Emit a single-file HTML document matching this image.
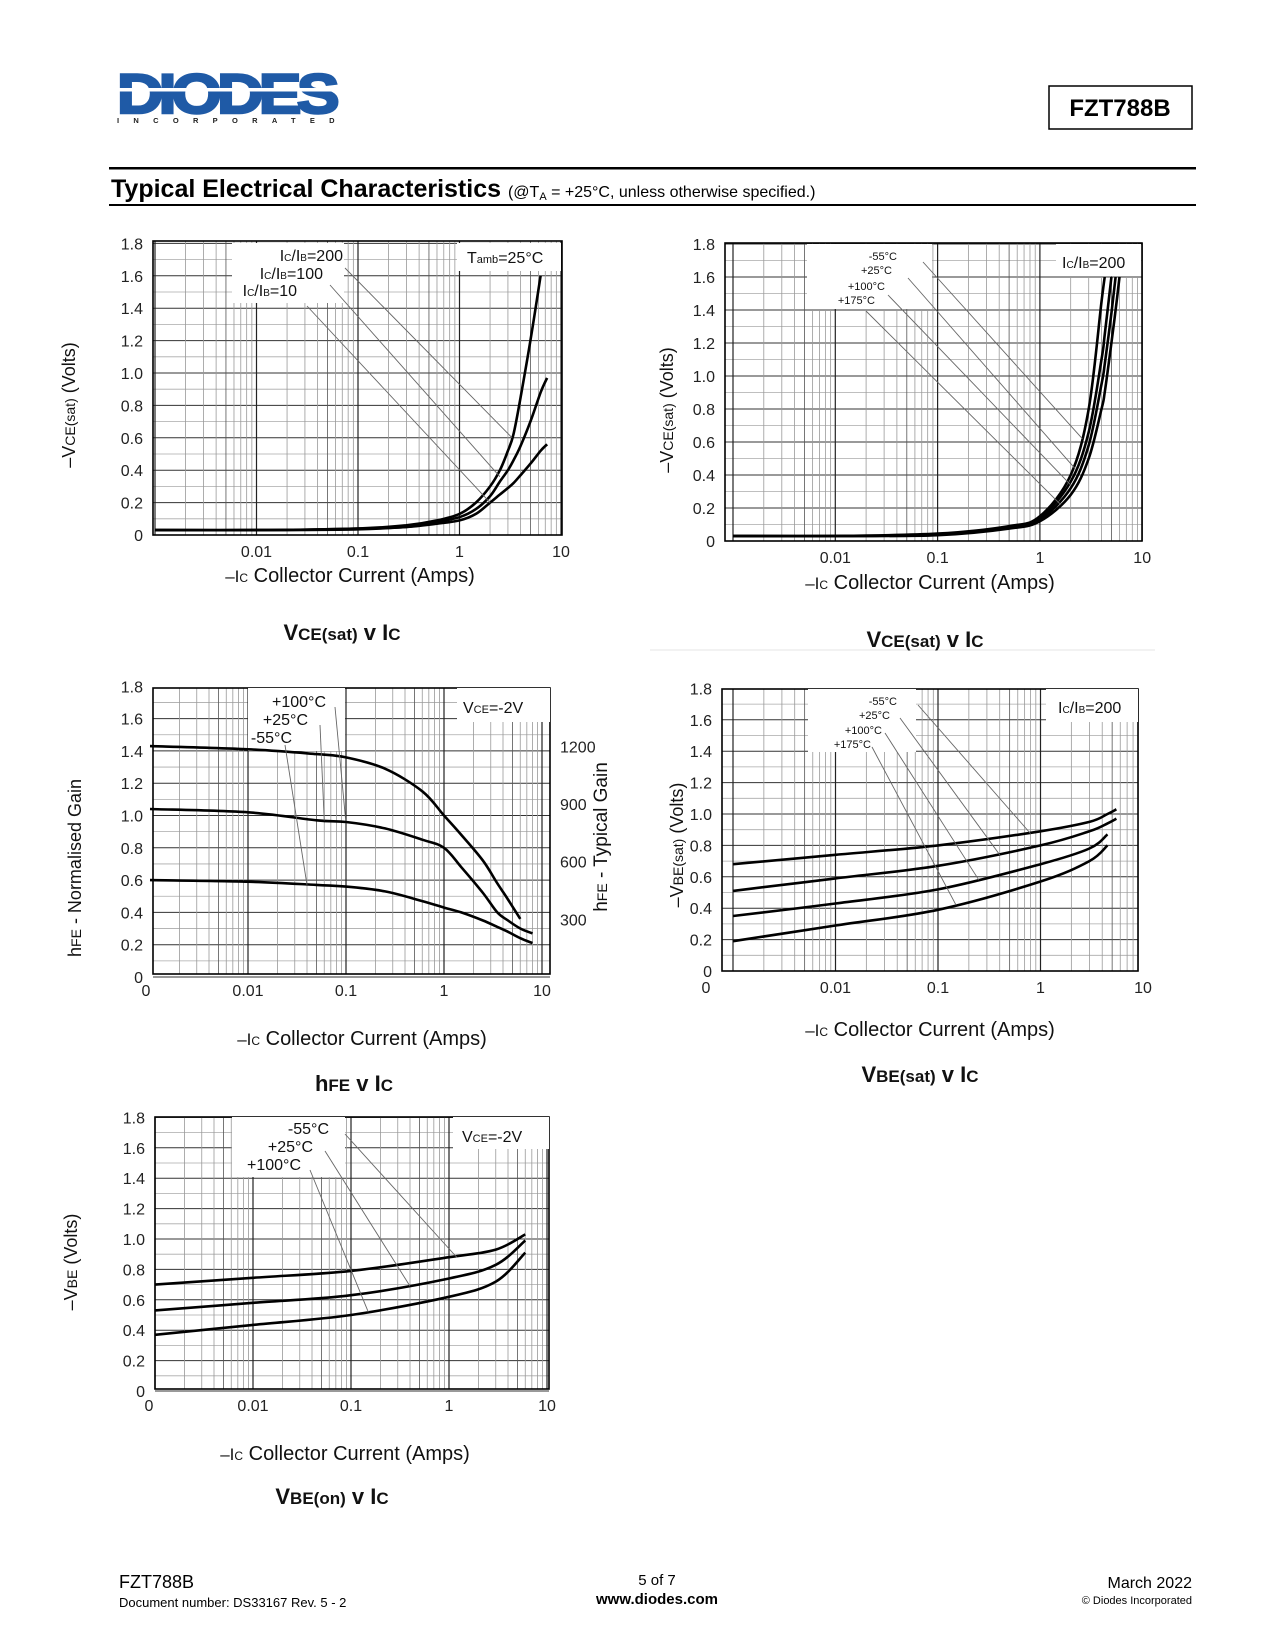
<!DOCTYPE html>
<html><head><meta charset="utf-8"><style>
html,body{margin:0;padding:0;background:#fff}
svg{display:block;font-family:"Liberation Sans",Arial,sans-serif}
</style></head><body>
<svg id="pg" width="1275" height="1650" viewBox="0 0 1275 1650" xmlns="http://www.w3.org/2000/svg">
<g>
<text x="117" y="113" font-size="56" font-weight="bold" fill="#1f5aa6" stroke="#1f5aa6" stroke-width="2.5" letter-spacing="-4" font-family="Liberation Sans, sans-serif" textLength="218" lengthAdjust="spacingAndGlyphs">DIODES</text>
<rect x="117" y="88" width="222" height="3.5" fill="#fff"/>
<text x="117" y="123" font-size="7.5" font-weight="bold" fill="#222" letter-spacing="14.3">INCORPORATED</text>
</g>
<rect x="1049" y="86" width="143" height="43" fill="#fff" stroke="#000" stroke-width="1.5"/>
<text x="1120" y="116" font-size="24" font-weight="bold" text-anchor="middle">FZT788B</text>
<rect x="109" y="167" width="1087" height="2.5" fill="#000"/>
<text x="111" y="197" font-size="25" font-weight="bold">Typical Electrical Characteristics <tspan font-size="16" font-weight="normal">(@T<tspan font-size="11" dy="3">A</tspan><tspan dy="-3"> = +25°C, unless otherwise specified.)</tspan></tspan></text>
<rect x="109" y="204" width="1087" height="2" fill="#000"/>
<line x1="650" y1="650" x2="1155" y2="650" stroke="#e4e4e4" stroke-width="1"/>
<g id="charts"></g>
<g>
<text x="119" y="1588" font-size="18">FZT788B</text>
<text x="119" y="1607" font-size="13">Document number: DS33167 Rev. 5 - 2</text>
<text x="657" y="1585" font-size="15" text-anchor="middle">5 of 7</text>
<text x="657" y="1604" font-size="15" font-weight="bold" text-anchor="middle">www.diodes.com</text>
<text x="1192" y="1588" font-size="16" text-anchor="end">March 2022</text>
<text x="1192" y="1604" font-size="11" text-anchor="end">© Diodes Incorporated</text>
</g>
</svg>
<script>
// ---- Chart 1: VCE(sat) v IC ----
const c1X = [0.001, 0.01, 0.1, 0.3, 0.6, 1, 1.45, 2, 2.5, 3, 3.4, 4, 5, 6.3, 7.3];
const c1Y200 = [0.03, 0.03, 0.04, 0.06, 0.09, 0.13, 0.2, 0.3, 0.4, 0.52, 0.62, 0.85, 1.2, 1.6, null];
const c1Y100 = [0.03, 0.03, 0.04, 0.05, 0.08, 0.11, 0.16, 0.24, 0.33, 0.4, 0.46, 0.55, 0.7, 0.88, 0.97];
const c1Y10 = [0.03, 0.03, 0.035, 0.05, 0.07, 0.09, 0.13, 0.2, 0.25, 0.29, 0.32, 0.37, 0.44, 0.52, 0.56];
// ---- Chart 2: VCE(sat) v IC temperatures ----
const c2X = [0.001, 0.01, 0.1, 0.5, 1, 2, 3, 4, 4.3, 5, 5.5, 6];
const c2Ym55 = [0.03, 0.03, 0.045, 0.09, 0.15, 0.4, 0.8, 1.45, 1.6, null, null, null];
const c2Y25 = [0.03, 0.03, 0.04, 0.085, 0.14, 0.36, 0.66, 1.1, 1.25, 1.6, null, null];
const c2Y100 = [0.03, 0.03, 0.04, 0.08, 0.13, 0.32, 0.58, 0.95, 1.07, 1.38, 1.6, null];
const c2Y175 = [0.03, 0.03, 0.035, 0.075, 0.12, 0.28, 0.5, 0.8, 0.9, 1.2, 1.4, 1.6];
// ---- Chart 3: hFE v IC ----
const c3X = [0.001, 0.01, 0.05, 0.1, 0.25, 0.6, 1, 1.5, 2.5, 3.5, 4.5, 6, 8];
const c3Top = [1.43, 1.41, 1.38, 1.36, 1.29, 1.15, 1.0, 0.88, 0.72, 0.58, 0.48, 0.36, null];
const c3Mid = [1.04, 1.02, 0.97, 0.96, 0.92, 0.85, 0.8, 0.68, 0.52, 0.4, 0.35, 0.3, 0.27];
const c3Bot = [0.6, 0.59, 0.57, 0.56, 0.53, 0.47, 0.43, 0.4, 0.35, 0.31, 0.28, 0.24, 0.21];
const c3RightTicks = [300, 600, 900, 1200];
// ---- Chart 4: VBE(sat) v IC ----
const c4X = [0.001, 0.01, 0.1, 1, 3, 4.5, 5.5];
const c4Ym55 = [0.68, 0.74, 0.8, 0.89, 0.95, 1.0, 1.03];
const c4Y25 = [0.51, 0.59, 0.67, 0.8, 0.89, 0.94, 0.97];
const c4Y100 = [0.35, 0.43, 0.52, 0.68, 0.78, 0.87, null];
const c4Y175 = [0.19, 0.29, 0.39, 0.57, 0.7, 0.8, null];
// ---- Chart 5: VBE(on) v IC ----
const c5X = [0.001, 0.01, 0.1, 1, 3, 6];
const c5Top = [0.7, 0.745, 0.79, 0.88, 0.93, 1.03];
const c5Mid = [0.53, 0.58, 0.63, 0.74, 0.83, 0.99];
const c5Bot = [0.37, 0.435, 0.5, 0.62, 0.72, 0.91];
const yTicksA = ["0","0.2","0.4","0.6","0.8","1.0","1.2","1.4","1.6","1.8"];
const xTickVals = [0.01, 0.1, 1, 10];
const xTickLabels = ["0.01", "0.1", "1", "10"];

const NS = "http://www.w3.org/2000/svg";
const root = document.getElementById("charts");
function mk(parent, tag, attrs, txt) {
  const e = document.createElementNS(NS, tag);
  for (const k in attrs) e.setAttribute(k, attrs[k]);
  if (txt !== undefined) e.textContent = txt;
  parent.appendChild(e);
  return e;
}
function smoothPath(p) {
  if (p.length < 2) return "";
  let d = "M" + p[0][0].toFixed(1) + "," + p[0][1].toFixed(1);
  for (let i = 0; i < p.length - 1; i++) {
    const p0 = p[i - 1] || p[i], p1 = p[i], p2 = p[i + 1], p3 = p[i + 2] || p2;
    const c1x = p1[0] + (p2[0] - p0[0]) / 6, c1y = p1[1] + (p2[1] - p0[1]) / 6;
    const c2x = p2[0] - (p3[0] - p1[0]) / 6, c2y = p2[1] - (p3[1] - p1[1]) / 6;
    d += " C" + c1x.toFixed(1) + "," + c1y.toFixed(1) + " " + c2x.toFixed(1) + "," + c2y.toFixed(1) + " " + p2[0].toFixed(1) + "," + p2[1].toFixed(1);
  }
  return d;
}
function makeChart(o) {
  const g = mk(root, "g", {});
  
  
  const xs = v => o.x0 + (Math.log10(v) + 3) * o.dec;
  const ys = v => o.y0 - v * o.ppu;
  o.xs = xs; o.ys = ys;
  for (let i = 0; i * 0.1 <= o.ymax + 1e-9; i++) {
    const y = ys(i * 0.1);
    if (y < o.top) continue;
    const hl = mk(g, "line", {x1: o.left, x2: o.right, y1: y, y2: y, stroke: i % 2 ? "#aaa" : "#333", "stroke-width": i % 2 ? 0.8 : 1});
    
    
  }
  for (let d = -3; d <= 1; d++) {
    for (let k = 1; k <= 9; k++) {
      const v = k * Math.pow(10, d);
      const x = xs(v);
      if (x < o.left - 0.5 || x > o.right + 0.5) continue;
      const vl = mk(g, "line", {x1: x, x2: x, y1: o.top, y2: o.bottom, stroke: k === 1 ? "#222" : (k === 5 ? "#555" : "#999"), "stroke-width": k === 1 ? 1.2 : 0.8});
      
      
    }
  }
  const fr = mk(g, "rect", {x: o.left, y: o.top, width: o.right - o.left, height: o.bottom - o.top, fill: "none", stroke: "#000", "stroke-width": 1.6});
  
  
  for (let i = 0; i < yTicksA.length; i++) {
    const v = i * 0.2;
    if (v > o.ymax + 0.01) continue;
    const t = mk(g, "text", {x: o.left - 10, y: ys(v) + 6, "font-size": 16, "text-anchor": "end", fill: "#222"}, yTicksA[i]);
    
    
  }
  for (let i = 0; i < xTickVals.length; i++) {
    const t = mk(g, "text", {x: xs(xTickVals[i]), y: o.bottom + 22, "font-size": 16, "text-anchor": "middle", fill: "#222"}, xTickLabels[i]);
    
    
  }
  if (o.zeroX) {
    const z = mk(g, "text", {x: o.zeroX, y: o.bottom + 22, "font-size": 16, "text-anchor": "middle", fill: "#222"}, "0");
    
    
  }
  for (const b of o.boxes) {
    const r = mk(g, "rect", {x: b[0], y: b[1], width: b[2], height: b[3], fill: "#fff"});
    
    
  }
  for (const s of o.series) {
    let pts = [];
    for (let i = 0; i < o.xv.length; i++) {
      if (s.y[i] === null || s.y[i] === undefined) continue;
      pts.push([xs(o.xv[i]), ys(s.y[i])]);
    }
    const p = mk(g, "path", {d: smoothPath(pts), fill: "none", stroke: "#000", "stroke-width": 2.6, "stroke-linejoin": "round"});
    
    
    if (s.lead) {
      const tx = xs(s.lead[2]), ty = ys(s.lead[3]);
      const ln = mk(g, "line", {x1: s.lead[0], y1: s.lead[1], x2: tx, y2: ty, stroke: "#666", "stroke-width": 0.9});
      
      
    }
  }
  for (const l of o.labels) {
    const t = mk(g, "text", {x: l[0], y: l[1], "font-size": l[3], "text-anchor": l[4] || "start", fill: "#111"});
    t.innerHTML = l[2];
    
    
  }
  const xt = mk(g, "text", {x: o.xtitle[0], y: o.xtitle[1], "font-size": 20, "text-anchor": "middle", fill: "#111"});
  xt.innerHTML = '<tspan font-size="17">–I<tspan font-size="12">C</tspan></tspan>   Collector Current (Amps)';
  
  
  const yt = mk(g, "text", {x: 0, y: 0, "font-size": 18, "text-anchor": "middle", fill: "#111", transform: "translate(" + o.ytitle[0] + "," + o.ytitle[1] + ") rotate(-90)"});
  yt.innerHTML = o.ytitle[2];
  
  
  const ct = mk(g, "text", {x: o.ctitle[0], y: o.ctitle[1], "font-size": 22, "font-weight": "bold", "text-anchor": "middle", fill: "#111"});
  ct.innerHTML = o.ctitle[2];
  
  
  return o;
}
const IC = 'I<tspan font-size="10">C</tspan>/I<tspan font-size="10">B</tspan>';
makeChart({name: "vcesat-chart", left: 153, right: 562, top: 241, bottom: 535, x0: 155, dec: 101.5, y0: 535, ppu: 162, ymax: 1.8,
  xv: c1X,
  series: [
    {name: "series-icib-200", y: c1Y200, lead: [345, 268, 3.3, 0.6]},
    {name: "series-icib-100", y: c1Y100, lead: [330, 285, 2.5, 0.36]},
    {name: "series-icib-10", y: c1Y10, lead: [307, 306, 2.0, 0.2]}],
  boxes: [[232, 243, 112, 60], [457, 243, 104, 28]],
  labels: [[343, 261, IC + "=200", 16, "end"], [323, 279, IC + "=100", 16, "end"], [297, 296, IC + "=10", 16, "end"], [467, 263, 'T<tspan font-size="11">amb</tspan>=25°C', 16]],
  xtitle: [350, 582], ytitle: [75, 405, '–V<tspan font-size="14">CE(sat)</tspan>   (Volts)'], ctitle: [342, 640, 'V<tspan font-size="17">CE(sat)</tspan> v I<tspan font-size="17">C</tspan>']});
makeChart({name: "vcesat-temp-chart", left: 725, right: 1142, top: 243, bottom: 541, x0: 733, dec: 102.3, y0: 541, ppu: 165, ymax: 1.8,
  xv: c2X,
  series: [
    {name: "series-minus55c", y: c2Ym55, lead: [923, 262, 2.6, 0.62]},
    {name: "series-plus25c", y: c2Y25, lead: [908, 278, 2.2, 0.44]},
    {name: "series-plus100c", y: c2Y100, lead: [888, 295, 2.0, 0.34]},
    {name: "series-plus175c", y: c2Y175, lead: [866, 311, 1.6, 0.22]}],
  boxes: [[807, 244, 125, 65], [1056, 244, 85, 32]],
  labels: [[897, 260, "-55°C", 11, "end"], [892, 274, "+25°C", 11, "end"], [885, 290, "+100°C", 11, "end"], [875, 304, "+175°C", 11, "end"], [1062, 268, IC + "=200", 16]],
  xtitle: [930, 589], ytitle: [673, 410, '–V<tspan font-size="14">CE(sat)</tspan>   (Volts)'], ctitle: [925, 647, 'V<tspan font-size="17">CE(sat)</tspan> v I<tspan font-size="17">C</tspan>']});
const o3 = makeChart({name: "hfe-chart", left: 153, right: 550, top: 688, bottom: 974, x0: 150, dec: 98, y0: 977, ppu: 161.5, ymax: 1.8, zeroX: 146,
  xv: c3X,
  series: [
    {name: "series-hfe-100c", y: c3Top, lead: [335, 707, 0.1, 0.95]},
    {name: "series-hfe-25c", y: c3Mid, lead: [320, 725, 0.06, 0.97]},
    {name: "series-hfe-minus55c", y: c3Bot, lead: [285, 745, 0.04, 0.57]}],
  boxes: [[248, 688, 97, 63], [457, 688, 93, 34]],
  labels: [[326, 707, "+100°C", 16, "end"], [308, 725, "+25°C", 16, "end"], [292, 743, "-55°C", 16, "end"], [463, 713, 'V<tspan font-size="11">CE</tspan>=-2V', 16]],
  xtitle: [362, 1045], ytitle: [81, 868, 'h<tspan font-size="14">FE</tspan> - Normalised Gain'], ctitle: [354, 1091, 'h<tspan font-size="17">FE</tspan> v I<tspan font-size="17">C</tspan>']});
for (let i = 0; i < c3RightTicks.length; i++) {
  const t = mk(root, "text", {x: 560, y: o3.ys(c3RightTicks[i] / 840) + 6, "font-size": 16, fill: "#222"}, String(c3RightTicks[i]));
  
  
}
const rt = mk(root, "text", {x: 0, y: 0, "font-size": 19, "text-anchor": "middle", fill: "#111", transform: "translate(607,837) rotate(-90)"});
rt.innerHTML = 'h<tspan font-size="14">FE</tspan> - Typical Gain';


makeChart({name: "vbesat-chart", left: 722, right: 1138, top: 689, bottom: 971, x0: 733, dec: 102.5, y0: 971, ppu: 157, ymax: 1.8, zeroX: 706,
  xv: c4X,
  series: [
    {name: "series-vbe-minus55c", y: c4Ym55, lead: [918, 705, 0.8, 0.875]},
    {name: "series-vbe-plus25c", y: c4Y25, lead: [900, 718, 0.4, 0.74]},
    {name: "series-vbe-plus100c", y: c4Y100, lead: [885, 733, 0.25, 0.58]},
    {name: "series-vbe-plus175c", y: c4Y175, lead: [872, 747, 0.15, 0.42]}],
  boxes: [[808, 689, 108, 63], [1046, 689, 92, 33]],
  labels: [[897, 705, "-55°C", 11, "end"], [890, 719, "+25°C", 11, "end"], [882, 734, "+100°C", 11, "end"], [871, 748, "+175°C", 11, "end"], [1058, 713, IC + "=200", 16]],
  xtitle: [930, 1036], ytitle: [683, 845, '–V<tspan font-size="14">BE(sat)</tspan>   (Volts)'], ctitle: [920, 1082, 'V<tspan font-size="17">BE(sat)</tspan> v I<tspan font-size="17">C</tspan>']});
makeChart({name: "vbeon-chart", left: 155, right: 549, top: 1117, bottom: 1389, x0: 155, dec: 98, y0: 1391, ppu: 152, ymax: 1.8, zeroX: 149,
  xv: c5X,
  series: [
    {name: "series-vbeon-minus55c", y: c5Top, lead: [345, 1134, 1.2, 0.88]},
    {name: "series-vbeon-plus25c", y: c5Mid, lead: [325, 1151, 0.4, 0.69]},
    {name: "series-vbeon-plus100c", y: c5Bot, lead: [310, 1170, 0.15, 0.52]}],
  boxes: [[232, 1117, 113, 60], [453, 1117, 96, 32]],
  labels: [[329, 1134, "-55°C", 16, "end"], [313, 1152, "+25°C", 16, "end"], [301, 1170, "+100°C", 16, "end"], [462, 1142, 'V<tspan font-size="11">CE</tspan>=-2V', 16]],
  xtitle: [345, 1460], ytitle: [77, 1262, '–V<tspan font-size="14">BE</tspan>   (Volts)'], ctitle: [332, 1504, 'V<tspan font-size="17">BE(on)</tspan> v I<tspan font-size="17">C</tspan>']});
</script>
</body></html>
